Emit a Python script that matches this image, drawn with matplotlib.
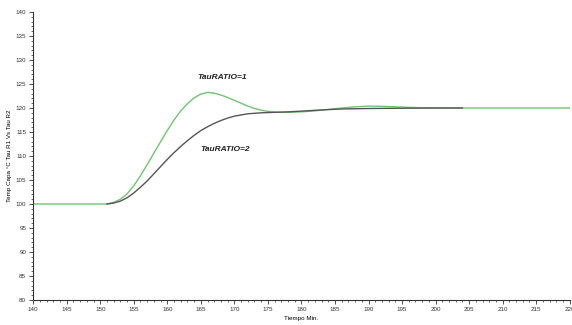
import matplotlib.pyplot as plt
from matplotlib.ticker import MultipleLocator

plt.rcParams['font.family'] = ['Liberation Sans', 'DejaVu Sans']

# TauRATIO=1 (green)
t1 = [140, 150, 151, 152, 153, 154, 155, 156, 157, 158, 159, 160, 161, 162, 163,
      164, 165, 166, 167, 168, 169, 170, 171, 172, 173, 174, 175, 176, 177, 178,
      180, 182, 184, 186, 188, 190, 192, 194, 196, 198, 200, 205, 220]
y1 = [100.0, 100.0, 100.0, 100.3, 101.0, 102.1, 103.8, 105.9, 108.2, 110.6, 113.0,
      115.3, 117.5, 119.4, 120.9, 122.1, 122.9, 123.25, 123.1, 122.7, 122.2, 121.6,
      121.0, 120.4, 119.9, 119.55, 119.3, 119.15, 119.1, 119.1, 119.2, 119.4, 119.7,
      120.0, 120.25, 120.4, 120.35, 120.25, 120.15, 120.05, 120.0, 120.0, 120.0]

# TauRATIO=2 (grey)
t2 = [151, 152, 153, 154, 155, 156, 157, 158, 159, 160, 161, 162, 163, 164, 165,
      166, 167, 168, 169, 170, 172, 174, 176, 178, 180, 183, 186, 190, 195, 200, 204]
y2 = [100.0, 100.2, 100.6, 101.3, 102.3, 103.5, 104.8, 106.3, 107.8, 109.3, 110.7,
      112.0, 113.2, 114.3, 115.3, 116.1, 116.8, 117.4, 117.9, 118.3, 118.8, 119.0,
      119.1, 119.2, 119.35, 119.6, 119.8, 119.9, 119.95, 120.0, 120.0]

labels = ['TauRATIO=1', 'TauRATIO=2']

fig = plt.figure(figsize=(5.72, 3.25), dpi=100)
ax = fig.add_axes([0.058, 0.077, 0.938, 0.886])

ax.plot(t1, y1, color='#74c274', lw=1.0)
ax.plot(t2, y2, color='#555555', lw=1.0)

ax.text(168.2, 126.3, labels[0], fontsize=6, fontweight='bold', fontstyle='italic',
        ha='center', va='center', color='#222222')
ax.text(168.6, 111.3, labels[1], fontsize=6, fontweight='bold', fontstyle='italic',
        ha='center', va='center', color='#222222')

ax.set_xlim(140, 220)
ax.set_ylim(80, 140)
ax.xaxis.set_major_locator(MultipleLocator(5))
ax.xaxis.set_minor_locator(MultipleLocator(1))
ax.yaxis.set_major_locator(MultipleLocator(5))
ax.yaxis.set_minor_locator(MultipleLocator(1))

for s in ['top', 'right']:
    ax.spines[s].set_visible(False)
for s in ['left', 'bottom']:
    ax.spines[s].set_linewidth(0.8)
    ax.spines[s].set_color('#333333')

ax.tick_params(which='major', length=3, width=0.6, labelsize=4.5, pad=2, colors='#333333')
ax.tick_params(which='minor', length=1.5, width=0.5, colors='#333333')

ax.set_xlabel('Tiempo Min.', fontsize=4.5, labelpad=3)
ax.set_ylabel('Temp Capa °C Tau R1 Vs Tau R2', fontsize=4.5, labelpad=3)

fig.savefig('out.png', dpi=100)
